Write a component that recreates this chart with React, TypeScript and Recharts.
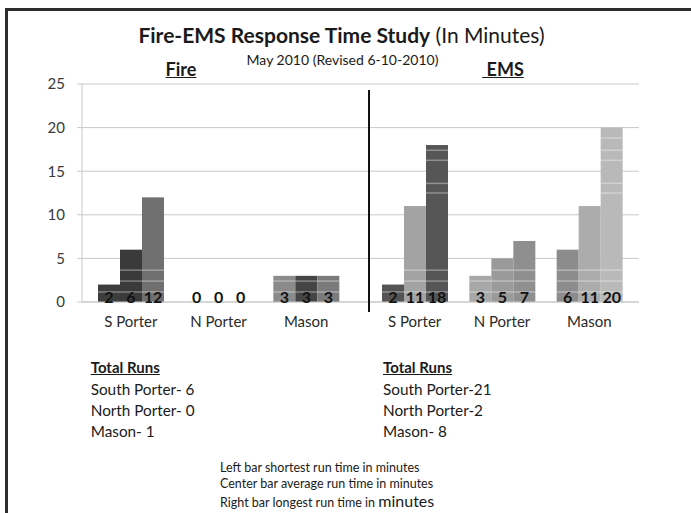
import React from 'react';
import { BarChart, Bar, XAxis, YAxis, CartesianGrid, LabelList, Cell } from 'recharts';

const categories = ['S Porter', 'N Porter', 'Mason'];
const fireShortest = [2, 0, 3];
const fireAverage = [6, 0, 3];
const fireLongest = [12, 0, 3];
const emsShortest = [2, 3, 6];
const emsAverage = [11, 5, 11];
const emsLongest = [18, 7, 20];
const yTicks = [0, 5, 10, 15, 20, 25];

const fireTotals = ['South Porter- 6', 'North Porter- 0', 'Mason- 1'];
const emsTotals = ['South Porter-21', 'North Porter-2', 'Mason- 8'];

const fireColors = {
  shortest: ['#3d3d3d', '#3d3d3d', '#8b8b8b'],
  average: ['#3a3a3a', '#3a3a3a', '#454545'],
  longest: ['#707070', '#707070', '#7b7b7b'],
};
const emsColors = {
  shortest: ['#545454', '#a8a8a8', '#8c8c8c'],
  average: ['#a3a3a3', '#9a9a9a', '#acacac'],
  longest: ['#565656', '#8f8f8f', '#b9b9b9'],
};

// decorative light stripes inside the bars (in value units)
const stripeValues = [1.15, 2.4, 3.65, 12.5, 13.6, 16.25, 17.4, 18.8];

const FONT = 'Lato, "Open Sans", sans-serif';

const fireData = categories.map((c, i) => ({
  name: c,
  shortest: fireShortest[i],
  average: fireAverage[i],
  longest: fireLongest[i],
}));
const emsData = categories.map((c, i) => ({
  name: c,
  shortest: emsShortest[i],
  average: emsAverage[i],
  longest: emsLongest[i],
}));

const StripedBar = (props: any) => {
  const { x, y, width, height, fill, value } = props;
  if (!height || height <= 0) return null;
  const v = Array.isArray(value) ? value[1] - value[0] : value;
  const unit = height / v;
  const base = y + height;
  return (
    <g>
      <rect x={x} y={y} width={width} height={height} fill={fill} />
      {stripeValues
        .filter((s) => s < v - 0.3)
        .map((s, i) => (
          <line
            key={i}
            x1={x}
            x2={x + width}
            y1={base - s * unit}
            y2={base - s * unit}
            stroke="#ffffff"
            strokeOpacity={0.35}
            strokeWidth={1.5}
          />
        ))}
    </g>
  );
};

const renderValue = (p: any) => {
  const { x, y, width, height, value } = p;
  return (
    <text
      x={x + width / 2}
      y={y + height + 0.5}
      textAnchor="middle"
      fontFamily={FONT}
      fontWeight="bold"
      fontSize={16}
      fill="#111"
    >
      {value}
    </text>
  );
};

const seriesKeys: Array<'shortest' | 'average' | 'longest'> = ['shortest', 'average', 'longest'];

const Chart = ({ data, colors, showY, width, padding }: any) => (
  <BarChart
    width={width}
    height={340}
    data={data}
    margin={{ top: 84, right: 0, bottom: 8, left: 0 }}
    barGap={0}
    barCategoryGap={11}
  >
    <CartesianGrid vertical={false} stroke="#c9c9c9" />
    <XAxis
      dataKey="name"
      height={30}
      padding={padding}
      axisLine={{ stroke: '#c9c9c9' }}
      tickLine={false}
      tickMargin={8}
      tick={{ fill: '#2a2a2a', fontSize: 15, fontFamily: FONT }}
      interval={0}
    />
    <YAxis
      hide={!showY}
      width={showY ? 82 : 0}
      domain={[0, 25]}
      ticks={yTicks}
      interval={0}
      axisLine={{ stroke: '#c9c9c9' }}
      tickLine={{ stroke: '#c9c9c9' }}
      tickSize={5}
      tickMargin={12}
      tick={{ fill: '#3a3a3a', fontSize: 15, fontFamily: FONT }}
    />
    {seriesKeys.map((k) => (
      <Bar key={k} dataKey={k} isAnimationActive={false} shape={<StripedBar />}>
        {data.map((_: any, i: number) => (
          <Cell key={i} fill={colors[k][i]} />
        ))}
        <LabelList dataKey={k} content={renderValue} />
      </Bar>
    ))}
  </BarChart>
);

const T = ({ x, y, size = 14, bold = false, underline = false, children, align = 'left', w }: any) => (
  <div
    style={{
      position: 'absolute',
      left: align === 'center' ? x - w / 2 : x,
      top: y - size * 0.65,
      width: align === 'center' ? w : undefined,
      textAlign: align,
      fontSize: size,
      lineHeight: `${size * 1.3}px`,
      fontWeight: bold ? 700 : 400,
      textDecoration: underline ? 'underline' : 'none',
      whiteSpace: 'pre',
      color: '#1a1a1a',
      fontFamily: FONT,
    }}
  >
    {children}
  </div>
);

export default function App() {
  return (
    <div
      style={{
        position: 'absolute',
        left: 0,
        top: 0,
        width: 691,
        height: 513,
        overflow: 'hidden',
        background: '#fff',
        fontFamily: FONT,
      }}
    >
      <div style={{ position: 'absolute', left: 5, top: 8, width: 700, height: 3, background: '#2e2e2e' }} />
      <div style={{ position: 'absolute', left: 5, top: 8, width: 3, height: 520, background: '#2e2e2e' }} />
      <div style={{ position: 'absolute', left: 0, top: 0 }}>
        <Chart data={fireData} colors={fireColors} showY width={370} padding={{ left: 5, right: 20 }} />
      </div>
      <div style={{ position: 'absolute', left: 370, top: 0 }}>
        <Chart data={emsData} colors={emsColors} showY={false} width={269} padding={{ left: 1, right: 6 }} />
      </div>
      <div style={{ position: 'absolute', left: 368, top: 90, width: 2, height: 222, background: '#111' }} />

      <T x={341.5} y={35} size={21} align="center" w={600}>
        <span style={{ fontWeight: 700 }}>Fire-EMS Response Time Study</span> (In Minutes)
      </T>
      <T x={342.5} y={60} size={14} align="center" w={400}>
        May 2010 (Revised 6-10-2010)
      </T>
      <T x={181} y={70} size={18} bold underline align="center" w={100}>
        Fire
      </T>
      <T x={503} y={70} size={18} bold underline align="center" w={100}>
        {' EMS'}
      </T>

      <T x={90.7} y={368} size={15} bold underline>
        Total Runs
      </T>
      {fireTotals.map((t, i) => (
        <T key={t} x={90.7} y={390 + i * 21} size={15.3}>
          {t}
        </T>
      ))}
      <T x={383} y={368} size={15} bold underline>
        Total Runs
      </T>
      {emsTotals.map((t, i) => (
        <T key={t} x={383} y={390 + i * 21} size={15.3}>
          {t}
        </T>
      ))}

      <T x={220} y={468} size={12.5}>
        Left bar shortest run time in minutes
      </T>
      <T x={220} y={484} size={12.5}>
        Center bar average run time in minutes
      </T>
      <T x={220} y={501} size={12.5}>
        Right bar longest run time in <span style={{ fontSize: 16 }}>minutes</span>
      </T>
    </div>
  );
}
